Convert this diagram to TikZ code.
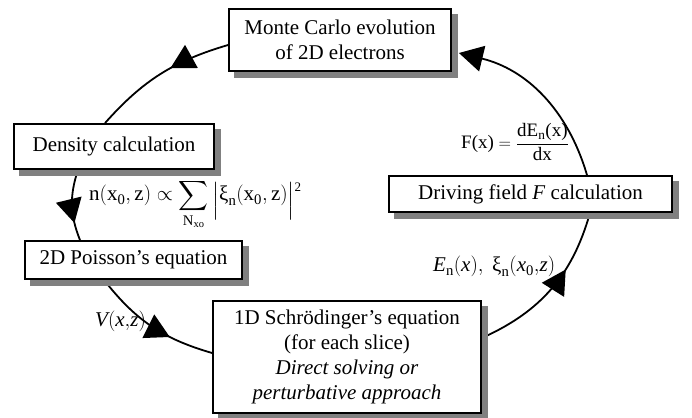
\documentclass[tikz,border=0pt]{standalone}
\usepackage{amsmath}
\usepackage{fontspec}
\setmainfont{Liberation Serif}
\usetikzlibrary{arrows.meta,decorations.markings,backgrounds}
\definecolor{shadowgray}{RGB}{128,128,128}
\begin{document}
\begin{tikzpicture}[x=1pt,y=1pt,
  font=\fontsize{21}{25}\selectfont,
  >={Triangle[length=24pt,width=26pt]},
  box/.style={draw=black, line width=1.8pt, fill=white, inner sep=0pt, align=center},
  shadowbox/.style={fill=shadowgray, inner sep=0pt},
  lbl/.style={inner sep=0pt},
  conn/.style={line width=1.8pt},
  arrowat/.style={postaction={decorate},
    decoration={markings, mark=at position #1 with {\arrow{>}}}}]
\useasboundingbox (0,0) rectangle (692,417);

% shadows
\node[shadowbox, minimum width=224pt, minimum height=64pt] (mcs) at (346,371) {};
\node[shadowbox, minimum width=202pt, minimum height=47pt] (denss) at (120,264.5) {};
\node[shadowbox, minimum width=219pt, minimum height=40pt] (poiss) at (139.5,151) {};
\node[shadowbox, minimum width=270pt, minimum height=114pt] (schrs) at (353,54) {};
\node[shadowbox, minimum width=285pt, minimum height=38pt] (drives) at (536.5,217) {};

% boxes
\node[box, minimum width=222pt, minimum height=62pt] (mc) at (340,377)
  {Monte Carlo evolution\\of 2D electrons};
\node[box, minimum width=200pt, minimum height=45pt] (dens) at (114,270.5)
  {Density calculation};
\node[box, minimum width=217pt, minimum height=38pt] (pois) at (133.5,157)
  {2D Poisson’s equation};
\node[box, minimum width=268pt, minimum height=112pt] (schr) at (347,60)
  {1D Schrödinger’s equation\\(for each slice)\\\textit{Direct solving or}\\\textit{perturbative approach}};
\node[box, minimum width=283pt, minimum height=36pt] (drive) at (530.5,223)
  {Driving field \textit{F} calculation};

% labels
\node[lbl, font=\fontsize{19}{23}\selectfont] (fx) at (515,275)
  {$\text{F(x)} = \dfrac{\text{dE}_{\text{n}}\text{(x)}}{\text{dx}}$};
\node[lbl, anchor=base west] (nf) at (89,216)
  {$\displaystyle \text{n}(\text{x}_{\text{0}},\text{z}) \propto \sum_{\text{N}_{\text{xo}}} \raisebox{-5pt}{$\Big|$}\text{ξ}_{\text{n}}(\text{x}_{\text{0}},\text{z})\raisebox{-5pt}{$\Big|$}\raisebox{9pt}{\fontsize{13}{13}\selectfont 2}$};
\node[lbl, anchor=base west] (el) at (433,145)
  {$\textit{E}_{\text{n}}(\textit{x}),\ \text{ξ}_{\text{n}}(\textit{x}_{\text{0}}{,}\textit{z})$};
\node[lbl, anchor=base west] (vl) at (95,90)
  {$\textit{V}(\textit{x}{,}\textit{z})$};

% connectors
\begin{scope}[on background layer]
\draw[conn, arrowat=0.42] ([yshift=-5pt]mc.west) to[bend right=16] ([xshift=-9pt]dens.north);
\draw[conn, arrowat=0.75] ([xshift=-36pt]dens.south) to[bend right=20] ([xshift=-53.5pt]pois.north);
\draw[conn, arrowat=0.66] ([xshift=-29.5pt]pois.south) to[bend right=18] ([yshift=4pt]schr.west);
\draw[conn, arrowat=0.64] ([yshift=19pt]schr.east) to[bend right=25] ([xshift=59.5pt]drive.south);
\draw[conn, ->] ([xshift=56.5pt]drive.north) to[bend right=30] ([xshift=7pt,yshift=-13pt]mc.east);
\end{scope}
\end{tikzpicture}
\end{document}
